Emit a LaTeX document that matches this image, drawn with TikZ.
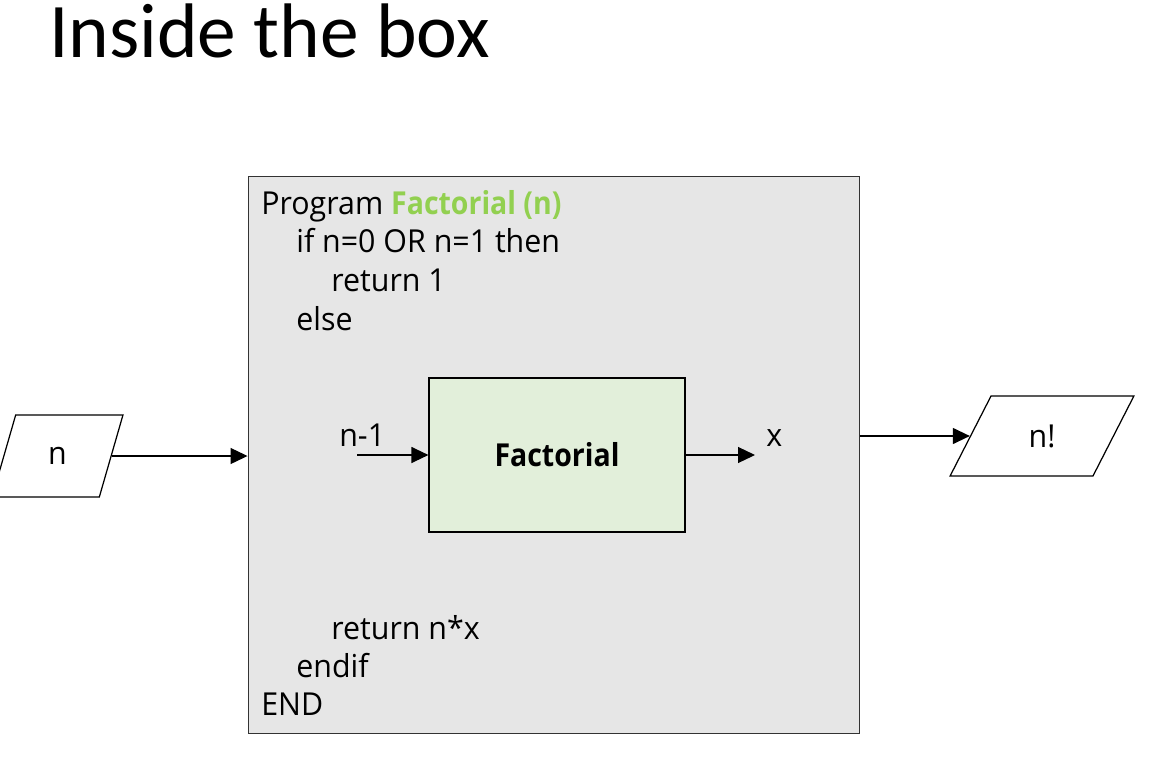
\documentclass[tikz,border=0pt]{standalone}
\usepackage{fontspec}
\setmainfont{Open Sans}[FakeStretch=0.96, BoldFeatures={FakeStretch=0.9}]
\newfontfamily\titlefont{Carlito}
\usetikzlibrary{shapes.geometric,arrows.meta}
\definecolor{boxgray}{HTML}{E6E6E6}
\definecolor{boxgreen}{HTML}{E2EFDA}
\definecolor{namegreen}{HTML}{92D050}
\begin{document}
\begin{tikzpicture}[
    x=0.02cm, y=-0.02cm,
    code/.style={anchor=base west, inner sep=0pt, font=\fontsize{18}{21}\selectfont},
    io/.style={draw, line width=0.7pt, trapezium, trapezium stretches=true, inner sep=0pt, font=\fontsize{18}{21}\selectfont},
    >={Triangle[length=0.34cm, width=0.32cm]}
]
\useasboundingbox (0,0) rectangle (1157,761);
\node[anchor=base west, inner sep=0pt, font=\titlefont\fontsize{44}{48}\selectfont] (title) at (49,57) {Inside the box};
% outer program box
\node[draw=black!80, line width=0.6pt, fill=boxgray, minimum width=12.24cm, minimum height=11.16cm] (prog) at (554,455) {};
\node[code] (l1) at (261,214) {Program \textcolor{namegreen}{\bfseries Factorial (n)}};
\node[code] (l2) at (296,252) {if n=0 OR n=1 then};
\node[code] (l3) at (331,291) {return 1};
\node[code] (l4) at (296,330) {else};
\node[code] (l5) at (331,639) {return n*x};
\node[code] (l6) at (296,677) {endif};
\node[code] (l7) at (261,715) {END};
% recursive call
\node[draw, line width=0.7pt, fill=boxgreen, minimum width=5.12cm, minimum height=3.08cm, font=\fontsize{18}{21}\selectfont\bfseries] (fact) at (557,455) {Factorial};
\coordinate (callin) at (357,455);
\coordinate (callout) at (755,455);
\draw[->, line width=0.7pt] (callin) -- (fact.west);
\draw[->, line width=0.7pt] (fact.east) -- (callout);
\node[code] (arg) at (339,446) {n-1};
\node[code] (res) at (766,446) {x};
% input and output
\node[io, trapezium left angle=73, trapezium right angle=107, minimum width=2.62cm, minimum height=1.64cm] (inp) at (57.5,456) {n};
\node[io, trapezium left angle=65, trapezium right angle=115, minimum width=3.68cm, minimum height=1.6cm] (outp) at (1042,436) {n!};
\draw[->, line width=0.7pt] (inp.east) -- (inp.east -| prog.west);
\draw[->, line width=0.7pt] (prog.east |- outp.west) -- (outp.west);
\end{tikzpicture}
\end{document}
